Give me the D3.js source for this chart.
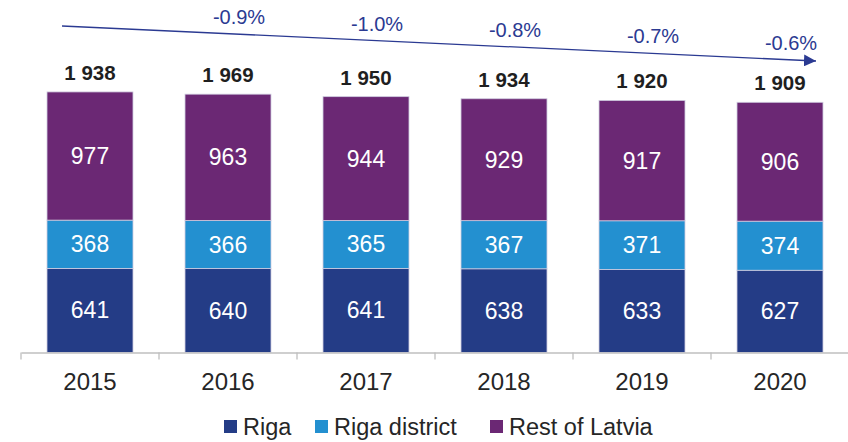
<!DOCTYPE html>
<html>
<head>
<meta charset="utf-8">
<script src="https://cdn.jsdelivr.net/npm/d3@7"></script>
<style>
  body { margin: 0; background: #fff; }
  svg { display: block; font-family: "Liberation Sans", Arial, sans-serif; }
</style>
</head>
<body>
<svg id="chart" width="848" height="442"></svg>
<script>
// data
let years = ["2015", "2016", "2017", "2018", "2019", "2020"];
let riga = [641, 640, 641, 638, 633, 627];
let rigaDistrict = [368, 366, 365, 367, 371, 374];
let restOfLatvia = [977, 963, 944, 929, 917, 906];
let totals = ["1 938", "1 969", "1 950", "1 934", "1 920", "1 909"];
let changeYears = ["2016", "2017", "2018", "2019", "2020"];
let changes = ["-0.9%", "-1.0%", "-0.8%", "-0.7%", "-0.6%"];
let seriesNames = ["Riga", "Riga district", "Rest of Latvia"];
let colors = ["#243c86", "#2390d0", "#6b2874"];

let svg = d3.select("#chart");
let baseY = 352.5;

let table = years.map((yr, i) => ({
  year: yr,
  "Riga": riga[i],
  "Riga district": rigaDistrict[i],
  "Rest of Latvia": restOfLatvia[i]
}));

let x = d3.scaleBand()
  .domain(years)
  .range([21, 849])
  .paddingInner(0.377)
  .paddingOuter(0.1885);

let y = d3.scaleLinear()
  .domain([0, 2000])
  .range([baseY, baseY - 2000 * 0.1312]);

let color = d3.scaleOrdinal().domain(seriesNames).range(colors);

let stacked = d3.stack().keys(seriesNames)(table);

let layers = svg.selectAll("g.layer")
  .data(stacked)
  .enter()
  .append("g")
  .attr("class", "layer")
  .attr("fill", (d) => color(d.key));

layers.selectAll("rect")
  .data((d) => d)
  .enter()
  .append("rect")
  .attr("x", (d) => x(d.data.year))
  .attr("y", (d) => y(d[1]))
  .attr("width", x.bandwidth())
  .attr("height", (d) => y(d[0]) - y(d[1]))
  .attr("stroke", "#cfcbdf")
  .attr("stroke-width", 0.8);

layers.selectAll("text")
  .data((d) => d)
  .enter()
  .append("text")
  .attr("x", (d) => x(d.data.year) + x.bandwidth() / 2)
  .attr("y", (d) => (y(d[0]) + y(d[1])) / 2 + 8)
  .attr("text-anchor", "middle")
  .attr("fill", "#fff")
  .style("font-size", "23px")
  .text((d) => d[1] - d[0]);

// totals above bars
let topLayer = stacked[stacked.length - 1];
svg.selectAll("text.total")
  .data(topLayer)
  .enter()
  .append("text")
  .attr("class", "total")
  .attr("x", (d) => x(d.data.year) + x.bandwidth() / 2)
  .attr("y", (d) => y(d[1]) - 12)
  .attr("text-anchor", "middle")
  .attr("fill", "#1f1f1f")
  .style("font-size", "20.5px")
  .style("font-weight", "bold")
  .text((d, i) => totals[i]);

// x axis
let axis = svg.append("g")
  .attr("transform", "translate(0," + baseY + ")")
  .call(d3.axisBottom(x).tickSize(0).tickPadding(20));
axis.select(".domain").attr("stroke", "#bfbfbf").attr("stroke-width", 1.3);
axis.selectAll("text")
  .attr("fill", "#262626")
  .style("font-size", "24px")
  .style("font-family", "'Liberation Sans', Arial, sans-serif");

let gap = x.step() * x.paddingInner() / 2;
let bounds = years.map((yr) => x(yr) - gap);
axis.selectAll("line.bound")
  .data(bounds)
  .enter()
  .append("line")
  .attr("class", "bound")
  .attr("x1", (d) => d).attr("x2", (d) => d)
  .attr("y1", 0).attr("y2", 7)
  .attr("stroke", "#bfbfbf")
  .attr("stroke-width", 1.3);

// trend arrow
let ax0 = x(years[0]) + 15, ay0 = 26;
let ax1 = x(years[years.length - 1]) + x.bandwidth() - 7, ay1 = 61;
let lineY = (px) => ay0 + (ay1 - ay0) * (px - ax0) / (ax1 - ax0);
svg.append("defs").append("marker")
  .attr("id", "arrow")
  .attr("viewBox", "0 0 10 10")
  .attr("refX", 10).attr("refY", 5)
  .attr("markerWidth", 12).attr("markerHeight", 12)
  .attr("markerUnits", "userSpaceOnUse")
  .attr("orient", "auto")
  .append("path")
  .attr("d", "M0,0L10,5L0,10Z")
  .attr("fill", "#2b3a92");
svg.append("line")
  .attr("x1", ax0).attr("y1", ay0)
  .attr("x2", ax1).attr("y2", ay1)
  .attr("stroke", "#2b3a92")
  .attr("stroke-width", 1.3)
  .attr("marker-end", "url(#arrow)");

svg.selectAll("text.change")
  .data(changes)
  .enter()
  .append("text")
  .attr("class", "change")
  .attr("x", (d, i) => x(changeYears[i]) + x.bandwidth() / 2 + 11)
  .attr("y", (d, i) => lineY(x(changeYears[i]) + x.bandwidth() / 2 + 11) - 10)
  .attr("text-anchor", "middle")
  .attr("fill", "#2b3a92")
  .style("font-size", "20px")
  .text((d) => d);

// legend
let legendX = [224, 315, 490];
let legend = svg.selectAll("g.legend")
  .data(seriesNames)
  .enter()
  .append("g")
  .attr("class", "legend")
  .attr("transform", (d, i) => "translate(" + legendX[i] + ",420)");
legend.append("rect")
  .attr("width", 13).attr("height", 13)
  .attr("fill", (d) => color(d));
legend.append("text")
  .attr("x", 19).attr("y", 15)
  .attr("fill", "#262626")
  .style("font-size", "23.5px")
  .text((d) => d);
</script>
</body>
</html>
